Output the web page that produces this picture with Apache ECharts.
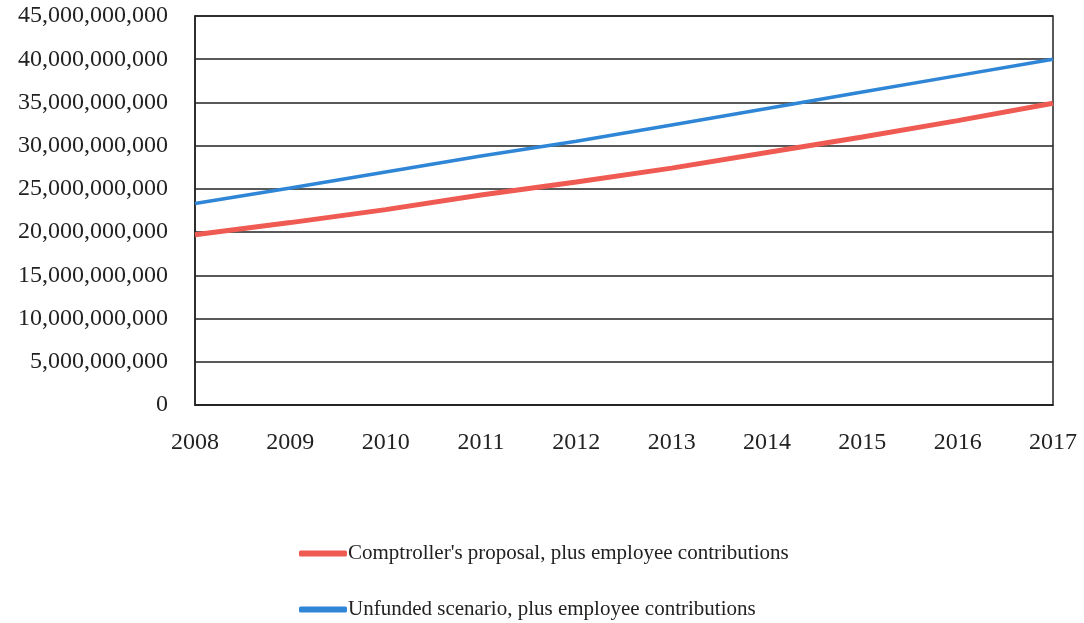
<!DOCTYPE html>
<html>
<head>
<meta charset="utf-8">
<script src="https://cdn.jsdelivr.net/npm/echarts@6/dist/echarts.min.js"></script>
<style>html,body{margin:0;padding:0;background:#fff;}#c{width:1084px;height:623px;}</style>
</head>
<body>
<div id="c"></div>
<script>
var years = ['2008','2009','2010','2011','2012','2013','2014','2015','2016','2017'];
var comptroller = [19.7e9, 21.1e9, 22.6e9, 24.3e9, 25.8e9, 27.4e9, 29.2e9, 31.0e9, 32.9e9, 34.9e9];
var unfunded = [23.3e9, 25.1e9, 26.95e9, 28.8e9, 30.5e9, 32.4e9, 34.3e9, 36.2e9, 38.1e9, 40.0e9];
var seriesNames = ["Comptroller's proposal, plus employee contributions", "Unfunded scenario, plus employee contributions"];
var colors = ['#ef5a52', '#2f86d6'];

function addCommas(v){ return String(Math.round(v)).replace(/\B(?=(\d{3})+(?!\d))/g, ','); }

function legendFor(i, top){
  return {
    orient: 'horizontal', left: 294, top: top,
    itemWidth: 48, itemHeight: 6,
    textStyle: {fontFamily: 'Liberation Serif', fontSize: 21, color: '#222', padding: [0,0,0,-4]},
    data: [{name: seriesNames[i], icon: 'roundRect', itemStyle: {color: colors[i]}}]
  };
}

var chart = echarts.init(document.getElementById('c'), null, {renderer:'canvas'});
chart.setOption({
  animation: false,
  backgroundColor: '#fff',
  textStyle: {fontFamily: 'Liberation Serif'},
  grid: {left: 195, right: 31, top: 16, bottom: 218, show: true, borderColor: '#222', borderWidth: 1.5},
  legend: [legendFor(0, 538), legendFor(1, 594)],
  xAxis: {
    type: 'category', data: years, boundaryGap: false,
    axisLine: {lineStyle: {color: '#222', width: 1.5}},
    axisTick: {show: false},
    axisLabel: {fontFamily: 'Liberation Serif', fontSize: 24, color: '#222', margin: 26}
  },
  yAxis: {
    type: 'value', min: 0, max: 45e9, interval: 5e9,
    axisLine: {show: true, lineStyle: {color: '#222', width: 1.5}},
    axisTick: {show: false},
    splitLine: {lineStyle: {color: '#222', width: 1.5}},
    axisLabel: {fontFamily: 'Liberation Serif', fontSize: 24, color: '#222', margin: 27, formatter: addCommas}
  },
  series: [
    {name: seriesNames[0], type: 'line', data: comptroller, symbol: 'none', lineStyle: {color: colors[0], width: 5}, itemStyle: {color: colors[0]}},
    {name: seriesNames[1], type: 'line', data: unfunded, symbol: 'none', lineStyle: {color: colors[1], width: 3.5}, itemStyle: {color: colors[1]}}
  ]
});
</script>
</body>
</html>
